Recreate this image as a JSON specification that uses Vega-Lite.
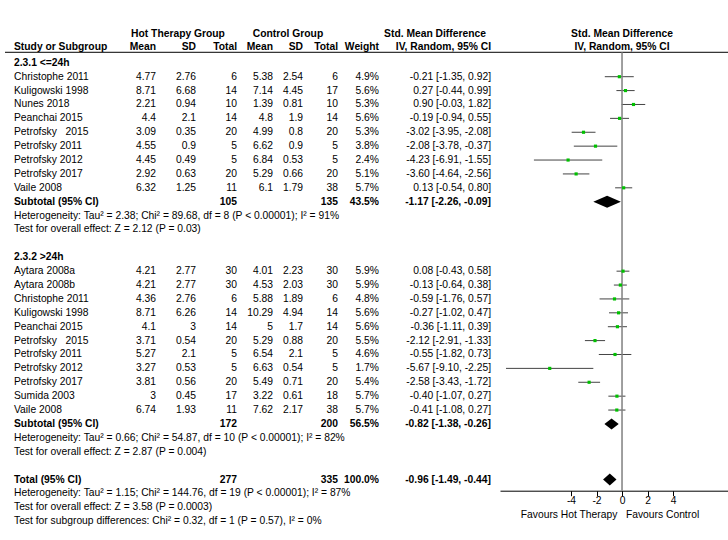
{
"$schema": "https://vega.github.io/schema/vega-lite/v6.json",
"padding": {"left": 4, "top": 0, "right": 0, "bottom": 0},
"spacing": 0,
"bounds": "flush",
"background": "white",
"config": {
  "view": {"stroke": null},
  "text": {"font": "Liberation Sans", "fontSize": 10.3, "baseline": "middle", "color": "#000"},
  "rule": {"color": "#000", "strokeWidth": 1},
  "concat": {"spacing": 0}
},
"datasets": {
  "rows": [
    {"line": -1, "kind": "group", "label": "2.3.1 <=24h"},
    {"line": 0, "kind": "study", "label": "Christophe 2011", "hm": 4.77, "hsd": 2.76, "hn": 6, "cm": 5.38, "csd": 2.54, "cn": 6, "w": 0.049, "smd": -0.21, "lo": -1.35, "hi": 0.92, "ci": "-0.21 [-1.35, 0.92]"},
    {"line": 1, "kind": "study", "label": "Kuligowski 1998", "hm": 8.71, "hsd": 6.68, "hn": 14, "cm": 7.14, "csd": 4.45, "cn": 17, "w": 0.056, "smd": 0.27, "lo": -0.44, "hi": 0.99, "ci": "0.27 [-0.44, 0.99]"},
    {"line": 2, "kind": "study", "label": "Nunes 2018", "hm": 2.21, "hsd": 0.94, "hn": 10, "cm": 1.39, "csd": 0.81, "cn": 10, "w": 0.053, "smd": 0.90, "lo": -0.03, "hi": 1.82, "ci": "0.90 [-0.03, 1.82]"},
    {"line": 3, "kind": "study", "label": "Peanchai 2015", "hm": 4.4, "hsd": 2.1, "hn": 14, "cm": 4.8, "csd": 1.9, "cn": 14, "w": 0.056, "smd": -0.19, "lo": -0.94, "hi": 0.55, "ci": "-0.19 [-0.94, 0.55]"},
    {"line": 4, "kind": "study", "label": "Petrofsky\u00a0\u00a0 2015", "hm": 3.09, "hsd": 0.35, "hn": 20, "cm": 4.99, "csd": 0.8, "cn": 20, "w": 0.053, "smd": -3.02, "lo": -3.95, "hi": -2.08, "ci": "-3.02 [-3.95, -2.08]"},
    {"line": 5, "kind": "study", "label": "Petrofsky 2011", "hm": 4.55, "hsd": 0.9, "hn": 5, "cm": 6.62, "csd": 0.9, "cn": 5, "w": 0.038, "smd": -2.08, "lo": -3.78, "hi": -0.37, "ci": "-2.08 [-3.78, -0.37]"},
    {"line": 6, "kind": "study", "label": "Petrofsky 2012", "hm": 4.45, "hsd": 0.49, "hn": 5, "cm": 6.84, "csd": 0.53, "cn": 5, "w": 0.024, "smd": -4.23, "lo": -6.91, "hi": -1.55, "ci": "-4.23 [-6.91, -1.55]"},
    {"line": 7, "kind": "study", "label": "Petrofsky 2017", "hm": 2.92, "hsd": 0.63, "hn": 20, "cm": 5.29, "csd": 0.66, "cn": 20, "w": 0.051, "smd": -3.60, "lo": -4.64, "hi": -2.56, "ci": "-3.60 [-4.64, -2.56]"},
    {"line": 8, "kind": "study", "label": "Vaile 2008", "hm": 6.32, "hsd": 1.25, "hn": 11, "cm": 6.1, "csd": 1.79, "cn": 38, "w": 0.057, "smd": 0.13, "lo": -0.54, "hi": 0.80, "ci": "0.13 [-0.54, 0.80]"},
    {"line": 9, "kind": "sub", "label": "Subtotal (95% CI)", "hn": 105, "cn": 135, "w": 0.435, "smd": -1.17, "lo": -2.26, "hi": -0.09, "ci": "-1.17 [-2.26, -0.09]"},
    {"line": 10, "kind": "note", "label": "Heterogeneity: Tau² = 2.38; Chi² = 89.68, df = 8 (P < 0.00001); I² = 91%"},
    {"line": 11, "kind": "note", "label": "Test for overall effect: Z = 2.12 (P = 0.03)"},
    {"line": 13, "kind": "group", "label": "2.3.2 >24h"},
    {"line": 14, "kind": "study", "label": "Aytara 2008a", "hm": 4.21, "hsd": 2.77, "hn": 30, "cm": 4.01, "csd": 2.23, "cn": 30, "w": 0.059, "smd": 0.08, "lo": -0.43, "hi": 0.58, "ci": "0.08 [-0.43, 0.58]"},
    {"line": 15, "kind": "study", "label": "Aytara 2008b", "hm": 4.21, "hsd": 2.77, "hn": 30, "cm": 4.53, "csd": 2.03, "cn": 30, "w": 0.059, "smd": -0.13, "lo": -0.64, "hi": 0.38, "ci": "-0.13 [-0.64, 0.38]"},
    {"line": 16, "kind": "study", "label": "Christophe 2011", "hm": 4.36, "hsd": 2.76, "hn": 6, "cm": 5.88, "csd": 1.89, "cn": 6, "w": 0.048, "smd": -0.59, "lo": -1.76, "hi": 0.57, "ci": "-0.59 [-1.76, 0.57]"},
    {"line": 17, "kind": "study", "label": "Kuligowski 1998", "hm": 8.71, "hsd": 6.26, "hn": 14, "cm": 10.29, "csd": 4.94, "cn": 14, "w": 0.056, "smd": -0.27, "lo": -1.02, "hi": 0.47, "ci": "-0.27 [-1.02, 0.47]"},
    {"line": 18, "kind": "study", "label": "Peanchai 2015", "hm": 4.1, "hsd": 3, "hn": 14, "cm": 5, "csd": 1.7, "cn": 14, "w": 0.056, "smd": -0.36, "lo": -1.11, "hi": 0.39, "ci": "-0.36 [-1.11, 0.39]"},
    {"line": 19, "kind": "study", "label": "Petrofsky\u00a0\u00a0 2015", "hm": 3.71, "hsd": 0.54, "hn": 20, "cm": 5.29, "csd": 0.88, "cn": 20, "w": 0.055, "smd": -2.12, "lo": -2.91, "hi": -1.33, "ci": "-2.12 [-2.91, -1.33]"},
    {"line": 20, "kind": "study", "label": "Petrofsky 2011", "hm": 5.27, "hsd": 2.1, "hn": 5, "cm": 6.54, "csd": 2.1, "cn": 5, "w": 0.046, "smd": -0.55, "lo": -1.82, "hi": 0.73, "ci": "-0.55 [-1.82, 0.73]"},
    {"line": 21, "kind": "study", "label": "Petrofsky 2012", "hm": 3.27, "hsd": 0.53, "hn": 5, "cm": 6.63, "csd": 0.54, "cn": 5, "w": 0.017, "smd": -5.67, "lo": -9.10, "hi": -2.25, "ci": "-5.67 [-9.10, -2.25]"},
    {"line": 22, "kind": "study", "label": "Petrofsky 2017", "hm": 3.81, "hsd": 0.56, "hn": 20, "cm": 5.49, "csd": 0.71, "cn": 20, "w": 0.054, "smd": -2.58, "lo": -3.43, "hi": -1.72, "ci": "-2.58 [-3.43, -1.72]"},
    {"line": 23, "kind": "study", "label": "Sumida 2003", "hm": 3, "hsd": 0.45, "hn": 17, "cm": 3.22, "csd": 0.61, "cn": 18, "w": 0.057, "smd": -0.40, "lo": -1.07, "hi": 0.27, "ci": "-0.40 [-1.07, 0.27]"},
    {"line": 24, "kind": "study", "label": "Vaile 2008", "hm": 6.74, "hsd": 1.93, "hn": 11, "cm": 7.62, "csd": 2.17, "cn": 38, "w": 0.057, "smd": -0.41, "lo": -1.08, "hi": 0.27, "ci": "-0.41 [-1.08, 0.27]"},
    {"line": 25, "kind": "sub", "label": "Subtotal (95% CI)", "hn": 172, "cn": 200, "w": 0.565, "smd": -0.82, "lo": -1.38, "hi": -0.26, "ci": "-0.82 [-1.38, -0.26]"},
    {"line": 26, "kind": "note", "label": "Heterogeneity: Tau² = 0.66; Chi² = 54.87, df = 10 (P < 0.00001); I² = 82%"},
    {"line": 27, "kind": "note", "label": "Test for overall effect: Z = 2.87 (P = 0.004)"},
    {"line": 29, "kind": "total", "label": "Total (95% CI)", "hn": 277, "cn": 335, "w": 1.0, "smd": -0.96, "lo": -1.49, "hi": -0.44, "ci": "-0.96 [-1.49, -0.44]"},
    {"line": 30, "kind": "note", "label": "Heterogeneity: Tau² = 1.15; Chi² = 144.76, df = 19 (P < 0.00001); I² = 87%"},
    {"line": 31, "kind": "note", "label": "Test for overall effect: Z = 3.58 (P = 0.0003)"},
    {"line": 32, "kind": "note", "label": "Test for subgroup differences: Chi² = 0.32, df = 1 (P = 0.57), I² = 0%"}
  ]
},
"hconcat": [
  {"width": 9, "height": 540, "data": {"values": [{}]}, "mark": "rule",
   "encoding": {"y": {"datum": -1.757, "type": "quantitative", "scale": {"domain": [-5.522, 33.355], "reverse": true, "nice": false, "zero": false}, "axis": null}}},
  {"width": 102, "height": 540, "layer": [
    {"data": {"values": [{}]}, "mark": "rule", "encoding": {"y": {"datum": -1.757, "type": "quantitative", "scale": {"domain": [-5.522, 33.355], "reverse": true, "nice": false, "zero": false}, "axis": null}}},
    {"data": {"values": [{}]}, "mark": {"type": "text", "text": "Study or Subgroup", "fontWeight": "bold", "align": "left"}, "encoding": {"x": {"value": 0}, "y": {"datum": -2.12, "type": "quantitative", "scale": {"domain": [-5.522, 33.355], "reverse": true, "nice": false, "zero": false}, "axis": null}}},
    {"data": {"name": "rows"}, "transform": [{"filter": "datum.kind == 'study' || datum.kind == 'note'"}], "mark": {"type": "text", "align": "left"}, "encoding": {"x": {"value": 0}, "y": {"field": "line", "type": "quantitative", "scale": {"domain": [-5.522, 33.355], "reverse": true, "nice": false, "zero": false}, "axis": null}, "text": {"field": "label", "type": "nominal"}}},
    {"data": {"name": "rows"}, "transform": [{"filter": "datum.kind == 'group' || datum.kind == 'sub' || datum.kind == 'total'"}], "mark": {"type": "text", "align": "left", "fontWeight": "bold"}, "encoding": {"x": {"value": 0}, "y": {"field": "line", "type": "quantitative", "scale": {"domain": [-5.522, 33.355], "reverse": true, "nice": false, "zero": false}, "axis": null}, "text": {"field": "label", "type": "nominal"}}}
  ]},
  {"width": 40, "height": 540, "layer": [
    {"data": {"values": [{}]}, "mark": "rule", "encoding": {"y": {"datum": -1.757, "type": "quantitative", "scale": {"domain": [-5.522, 33.355], "reverse": true, "nice": false, "zero": false}, "axis": null}}},
    {"data": {"values": [{}]}, "mark": {"type": "text", "text": "Mean", "fontWeight": "bold", "align": "right"}, "encoding": {"x": {"value": "width"}, "y": {"datum": -2.12, "type": "quantitative", "scale": {"domain": [-5.522, 33.355], "reverse": true, "nice": false, "zero": false}, "axis": null}}},
    {"data": {"name": "rows"}, "transform": [{"filter": "datum.kind == 'study'"}], "mark": {"type": "text", "align": "right"}, "encoding": {"x": {"value": "width"}, "y": {"field": "line", "type": "quantitative", "scale": {"domain": [-5.522, 33.355], "reverse": true, "nice": false, "zero": false}, "axis": null}, "text": {"field": "hm", "type": "nominal"}}}
  ]},
  {"width": 40, "height": 540, "layer": [
    {"data": {"values": [{}]}, "mark": "rule", "encoding": {"y": {"datum": -1.757, "type": "quantitative", "scale": {"domain": [-5.522, 33.355], "reverse": true, "nice": false, "zero": false}, "axis": null}}},
    {"data": {"values": [{}]}, "mark": {"type": "text", "text": "Hot Therapy Group", "fontWeight": "bold", "dx": 2}, "encoding": {"y": {"datum": -3.07, "type": "quantitative", "scale": {"domain": [-5.522, 33.355], "reverse": true, "nice": false, "zero": false}, "axis": null}}},
    {"data": {"values": [{}]}, "mark": {"type": "text", "text": "SD", "fontWeight": "bold", "align": "right"}, "encoding": {"x": {"value": "width"}, "y": {"datum": -2.12, "type": "quantitative", "scale": {"domain": [-5.522, 33.355], "reverse": true, "nice": false, "zero": false}, "axis": null}}},
    {"data": {"name": "rows"}, "transform": [{"filter": "datum.kind == 'study'"}], "mark": {"type": "text", "align": "right"}, "encoding": {"x": {"value": "width"}, "y": {"field": "line", "type": "quantitative", "scale": {"domain": [-5.522, 33.355], "reverse": true, "nice": false, "zero": false}, "axis": null}, "text": {"field": "hsd", "type": "nominal"}}}
  ]},
  {"width": 41, "height": 540, "layer": [
    {"data": {"values": [{}]}, "mark": "rule", "encoding": {"y": {"datum": -1.757, "type": "quantitative", "scale": {"domain": [-5.522, 33.355], "reverse": true, "nice": false, "zero": false}, "axis": null}}},
    {"data": {"values": [{}]}, "mark": {"type": "text", "text": "Total", "fontWeight": "bold", "align": "right"}, "encoding": {"x": {"value": "width"}, "y": {"datum": -2.12, "type": "quantitative", "scale": {"domain": [-5.522, 33.355], "reverse": true, "nice": false, "zero": false}, "axis": null}}},
    {"data": {"name": "rows"}, "transform": [{"filter": "datum.kind == 'study'"}], "mark": {"type": "text", "align": "right"}, "encoding": {"x": {"value": "width"}, "y": {"field": "line", "type": "quantitative", "scale": {"domain": [-5.522, 33.355], "reverse": true, "nice": false, "zero": false}, "axis": null}, "text": {"field": "hn", "type": "nominal"}}},
    {"data": {"name": "rows"}, "transform": [{"filter": "datum.kind == 'sub' || datum.kind == 'total'"}], "mark": {"type": "text", "align": "right", "fontWeight": "bold"}, "encoding": {"x": {"value": "width"}, "y": {"field": "line", "type": "quantitative", "scale": {"domain": [-5.522, 33.355], "reverse": true, "nice": false, "zero": false}, "axis": null}, "text": {"field": "hn", "type": "nominal"}}}
  ]},
  {"width": 36, "height": 540, "layer": [
    {"data": {"values": [{}]}, "mark": "rule", "encoding": {"y": {"datum": -1.757, "type": "quantitative", "scale": {"domain": [-5.522, 33.355], "reverse": true, "nice": false, "zero": false}, "axis": null}}},
    {"data": {"values": [{}]}, "mark": {"type": "text", "text": "Mean", "fontWeight": "bold", "align": "right"}, "encoding": {"x": {"value": "width"}, "y": {"datum": -2.12, "type": "quantitative", "scale": {"domain": [-5.522, 33.355], "reverse": true, "nice": false, "zero": false}, "axis": null}}},
    {"data": {"name": "rows"}, "transform": [{"filter": "datum.kind == 'study'"}], "mark": {"type": "text", "align": "right"}, "encoding": {"x": {"value": "width"}, "y": {"field": "line", "type": "quantitative", "scale": {"domain": [-5.522, 33.355], "reverse": true, "nice": false, "zero": false}, "axis": null}, "text": {"field": "cm", "type": "nominal"}}}
  ]},
  {"width": 30, "height": 540, "layer": [
    {"data": {"values": [{}]}, "mark": "rule", "encoding": {"y": {"datum": -1.757, "type": "quantitative", "scale": {"domain": [-5.522, 33.355], "reverse": true, "nice": false, "zero": false}, "axis": null}}},
    {"data": {"values": [{}]}, "mark": {"type": "text", "text": "Control Group", "fontWeight": "bold"}, "encoding": {"y": {"datum": -3.07, "type": "quantitative", "scale": {"domain": [-5.522, 33.355], "reverse": true, "nice": false, "zero": false}, "axis": null}}},
    {"data": {"values": [{}]}, "mark": {"type": "text", "text": "SD", "fontWeight": "bold", "align": "right"}, "encoding": {"x": {"value": "width"}, "y": {"datum": -2.12, "type": "quantitative", "scale": {"domain": [-5.522, 33.355], "reverse": true, "nice": false, "zero": false}, "axis": null}}},
    {"data": {"name": "rows"}, "transform": [{"filter": "datum.kind == 'study'"}], "mark": {"type": "text", "align": "right"}, "encoding": {"x": {"value": "width"}, "y": {"field": "line", "type": "quantitative", "scale": {"domain": [-5.522, 33.355], "reverse": true, "nice": false, "zero": false}, "axis": null}, "text": {"field": "csd", "type": "nominal"}}}
  ]},
  {"width": 35, "height": 540, "layer": [
    {"data": {"values": [{}]}, "mark": "rule", "encoding": {"y": {"datum": -1.757, "type": "quantitative", "scale": {"domain": [-5.522, 33.355], "reverse": true, "nice": false, "zero": false}, "axis": null}}},
    {"data": {"values": [{}]}, "mark": {"type": "text", "text": "Total", "fontWeight": "bold", "align": "right"}, "encoding": {"x": {"value": "width"}, "y": {"datum": -2.12, "type": "quantitative", "scale": {"domain": [-5.522, 33.355], "reverse": true, "nice": false, "zero": false}, "axis": null}}},
    {"data": {"name": "rows"}, "transform": [{"filter": "datum.kind == 'study'"}], "mark": {"type": "text", "align": "right"}, "encoding": {"x": {"value": "width"}, "y": {"field": "line", "type": "quantitative", "scale": {"domain": [-5.522, 33.355], "reverse": true, "nice": false, "zero": false}, "axis": null}, "text": {"field": "cn", "type": "nominal"}}},
    {"data": {"name": "rows"}, "transform": [{"filter": "datum.kind == 'sub' || datum.kind == 'total'"}], "mark": {"type": "text", "align": "right", "fontWeight": "bold"}, "encoding": {"x": {"value": "width"}, "y": {"field": "line", "type": "quantitative", "scale": {"domain": [-5.522, 33.355], "reverse": true, "nice": false, "zero": false}, "axis": null}, "text": {"field": "cn", "type": "nominal"}}}
  ]},
  {"width": 41, "height": 540, "layer": [
    {"data": {"values": [{}]}, "mark": "rule", "encoding": {"y": {"datum": -1.757, "type": "quantitative", "scale": {"domain": [-5.522, 33.355], "reverse": true, "nice": false, "zero": false}, "axis": null}}},
    {"data": {"values": [{}]}, "mark": {"type": "text", "text": "Weight", "fontWeight": "bold", "align": "right"}, "encoding": {"x": {"value": "width"}, "y": {"datum": -2.12, "type": "quantitative", "scale": {"domain": [-5.522, 33.355], "reverse": true, "nice": false, "zero": false}, "axis": null}}},
    {"data": {"name": "rows"}, "transform": [{"filter": "datum.kind == 'study'"}], "mark": {"type": "text", "align": "right"}, "encoding": {"x": {"value": "width"}, "y": {"field": "line", "type": "quantitative", "scale": {"domain": [-5.522, 33.355], "reverse": true, "nice": false, "zero": false}, "axis": null}, "text": {"field": "w", "type": "quantitative", "format": ".1%"}}},
    {"data": {"name": "rows"}, "transform": [{"filter": "datum.kind == 'sub' || datum.kind == 'total'"}], "mark": {"type": "text", "align": "right", "fontWeight": "bold"}, "encoding": {"x": {"value": "width"}, "y": {"field": "line", "type": "quantitative", "scale": {"domain": [-5.522, 33.355], "reverse": true, "nice": false, "zero": false}, "axis": null}, "text": {"field": "w", "type": "quantitative", "format": ".1%"}}}
  ]},
  {"width": 112, "height": 540, "layer": [
    {"data": {"values": [{}]}, "mark": "rule", "encoding": {"y": {"datum": -1.757, "type": "quantitative", "scale": {"domain": [-5.522, 33.355], "reverse": true, "nice": false, "zero": false}, "axis": null}}},
    {"data": {"values": [{}]}, "mark": {"type": "text", "text": "Std. Mean Difference", "fontWeight": "bold"}, "encoding": {"y": {"datum": -3.07, "type": "quantitative", "scale": {"domain": [-5.522, 33.355], "reverse": true, "nice": false, "zero": false}, "axis": null}}},
    {"data": {"values": [{}]}, "mark": {"type": "text", "text": "IV, Random, 95% CI", "fontWeight": "bold", "align": "right"}, "encoding": {"x": {"value": "width"}, "y": {"datum": -2.12, "type": "quantitative", "scale": {"domain": [-5.522, 33.355], "reverse": true, "nice": false, "zero": false}, "axis": null}}},
    {"data": {"name": "rows"}, "transform": [{"filter": "datum.kind == 'study'"}], "mark": {"type": "text", "align": "right"}, "encoding": {"x": {"value": "width"}, "y": {"field": "line", "type": "quantitative", "scale": {"domain": [-5.522, 33.355], "reverse": true, "nice": false, "zero": false}, "axis": null}, "text": {"field": "ci", "type": "nominal"}}},
    {"data": {"name": "rows"}, "transform": [{"filter": "datum.kind == 'sub' || datum.kind == 'total'"}], "mark": {"type": "text", "align": "right", "fontWeight": "bold"}, "encoding": {"x": {"value": "width"}, "y": {"field": "line", "type": "quantitative", "scale": {"domain": [-5.522, 33.355], "reverse": true, "nice": false, "zero": false}, "axis": null}, "text": {"field": "ci", "type": "nominal"}}}
  ]},
  {"width": 238, "height": 490.7, "layer": [
    {"data": {"name": "rows"}, "transform": [{"filter": "datum.kind == 'study'"}], "mark": {"type": "rule", "color": "#444444", "strokeWidth": 1},
     "encoding": {
       "x": {"field": "lo", "type": "quantitative", "scale": {"domain": [-9.57, 8.39], "range": [9, 238], "nice": false, "zero": false},
             "axis": {"orient": "bottom", "values": [-4, -2, 0, 2, 4], "labelExpr": "'' + datum.value", "tickSize": 5, "tickColor": "#000", "domainColor": "#000", "labelColor": "#000", "labelFont": "Liberation Sans", "labelFontSize": 10.3, "labelPadding": 0, "grid": false, "labelFlush": false, "labelOverlap": false,
                      "title": "Favours Hot Therapy\u00a0\u00a0\u00a0Favours Control", "titleFont": "Liberation Sans", "titleFontSize": 10.3, "titleFontWeight": "normal", "titleColor": "#000", "titleX": 118.5, "titlePadding": 3}},
       "x2": {"field": "hi"},
       "y": {"field": "line", "type": "quantitative", "scale": {"domain": [-5.522, 29.806], "reverse": true, "nice": false, "zero": false}, "axis": null}}},
    {"data": {"values": [{}]}, "mark": "rule", "encoding": {"y": {"datum": -1.757, "type": "quantitative", "scale": {"domain": [-5.522, 29.806], "reverse": true, "nice": false, "zero": false}, "axis": null}}},
    {"data": {"values": [{}]}, "mark": {"type": "text", "text": "Std. Mean Difference", "fontWeight": "bold"}, "encoding": {"x": {"datum": 0, "type": "quantitative", "scale": {"domain": [-9.57, 8.39], "range": [9, 238], "nice": false, "zero": false}}, "y": {"datum": -3.07, "type": "quantitative", "scale": {"domain": [-5.522, 29.806], "reverse": true, "nice": false, "zero": false}, "axis": null}}},
    {"data": {"values": [{}]}, "mark": {"type": "text", "text": "IV, Random, 95% CI", "fontWeight": "bold"}, "encoding": {"x": {"datum": 0, "type": "quantitative", "scale": {"domain": [-9.57, 8.39], "range": [9, 238], "nice": false, "zero": false}}, "y": {"datum": -2.12, "type": "quantitative", "scale": {"domain": [-5.522, 29.806], "reverse": true, "nice": false, "zero": false}, "axis": null}}},
    {"data": {"values": [{}]}, "mark": {"type": "rule", "color": "#808080", "strokeWidth": 1.5}, "encoding": {"x": {"datum": 0, "type": "quantitative", "scale": {"domain": [-9.57, 8.39], "range": [9, 238], "nice": false, "zero": false}}, "y": {"datum": -1.757, "type": "quantitative", "scale": {"domain": [-5.522, 29.806], "reverse": true, "nice": false, "zero": false}, "axis": null}, "y2": {"datum": 29.806}}},
    {"data": {"name": "rows"}, "transform": [{"filter": "datum.kind == 'study'"}], "mark": {"type": "square", "size": 10, "color": "#00c000", "opacity": 1, "filled": true},
     "encoding": {
       "x": {"field": "smd", "type": "quantitative", "scale": {"domain": [-9.57, 8.39], "range": [9, 238], "nice": false, "zero": false}},
       "y": {"field": "line", "type": "quantitative", "scale": {"domain": [-5.522, 29.806], "reverse": true, "nice": false, "zero": false}, "axis": null}}},
    {"data": {"name": "rows"}, "transform": [{"filter": "datum.kind == 'sub' || datum.kind == 'total'"}], "mark": {"type": "point", "filled": true, "color": "#000", "opacity": 1, "size": 4},
     "encoding": {
       "x": {"field": "smd", "type": "quantitative", "scale": {"domain": [-9.57, 8.39], "range": [9, 238], "nice": false, "zero": false}},
       "y": {"field": "line", "type": "quantitative", "scale": {"domain": [-5.522, 29.806], "reverse": true, "nice": false, "zero": false}, "axis": null},
       "shape": {"field": "line", "type": "nominal", "scale": {"domain": [9, 25, 29], "range": ["M-13.8,0L0,-6L13.8,0L0,6Z", "M-7.15,0L0,-5.5L7.15,0L0,5.5Z", "M-6.7,0L0,-6L6.7,0L0,6Z"]}, "legend": null}}}
  ]}
]
}
